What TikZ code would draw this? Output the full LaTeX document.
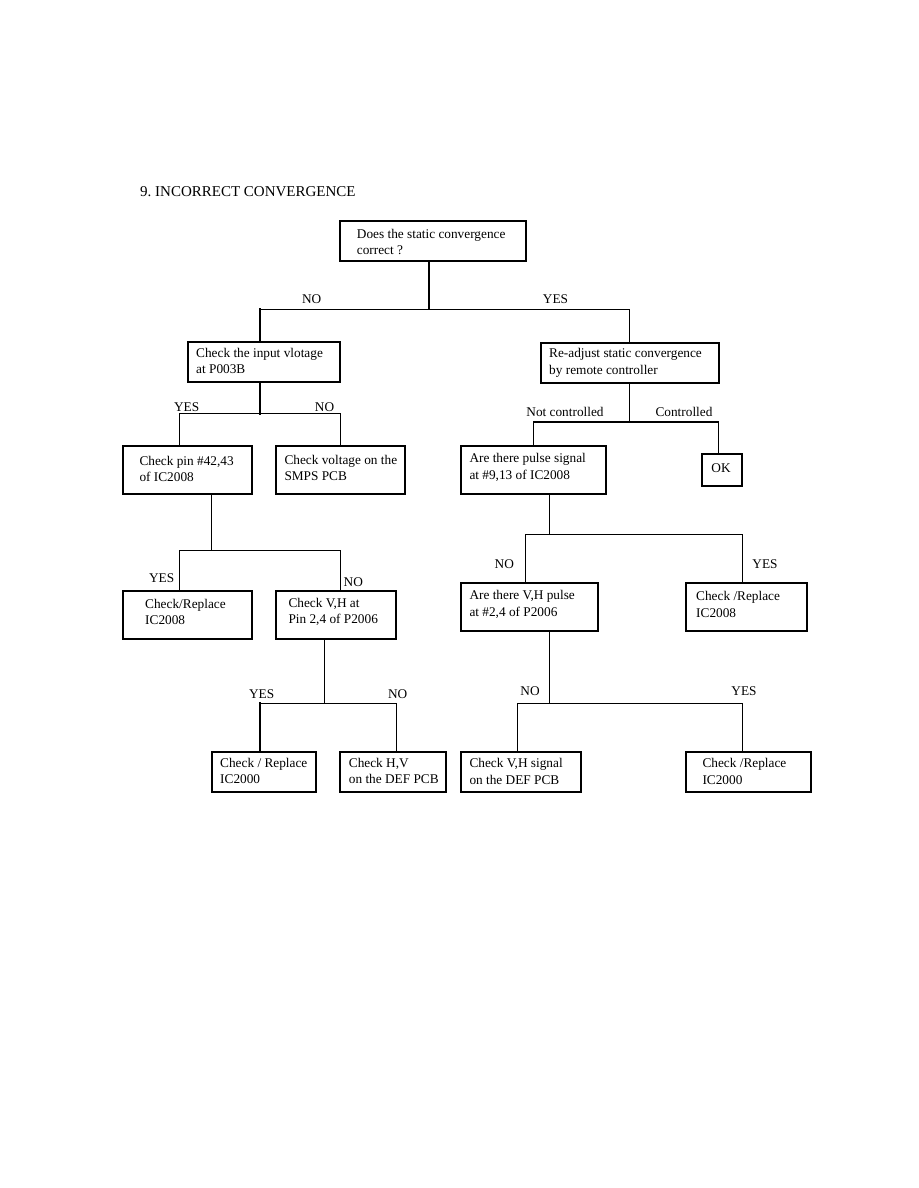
\documentclass[tikz,border=0pt]{standalone}
\usepackage{fontspec}
\setmainfont{Liberation Serif}
\usetikzlibrary{calc}
\frenchspacing
\begin{document}
\begin{tikzpicture}[x=1pt,y=-1pt,
  boxthick/.style={draw,line width=2pt,rectangle,inner sep=0pt},
  boxthin/.style={draw,line width=1.2pt,rectangle,inner sep=0pt},
  txt/.style={anchor=west,align=left,inner sep=0pt,font=\fontsize{13.3}{16.5}\selectfont},
  lbl/.style={inner sep=0pt,font=\fontsize{13.3}{16.5}\selectfont},
  thickln/.style={line width=2pt,line cap=rect},
  medln/.style={line width=1.5pt,line cap=rect},
  thinln/.style={line width=1pt,line cap=rect}]
\useasboundingbox (0,0) rectangle (918,1188);
\fill[white] (0,0) rectangle (918,1188);

\node[anchor=west,inner sep=0pt,font=\fontsize{15}{18}\selectfont] (title) at (140,192) {9.\ INCORRECT CONVERGENCE};

% boxes
\node[boxthick,minimum width=186pt,minimum height=40pt] (b1) at (433,241) {};
\node[txt] (b1t) at (356.7,242) {Does the static convergence\\correct ?};

\node[boxthick,minimum width=152pt,minimum height=40pt] (b2) at (264,362) {};
\node[txt] (b2t) at (196,361) {Check the input vlotage\\at P003B};

\node[boxthin,minimum width=178pt,minimum height=40pt] (b3) at (630,363) {};
\node[txt] (b3t) at (549,363) {Re-adjust static convergence\\by remote controller};

\node[boxthick,minimum width=145pt,minimum height=48pt] (b4) at (533.5,470) {};
\node[txt] (b4t) at (469.3,467.5) {Are there pulse signal\\at \#9,13 of IC2008};

\node[boxthick,minimum width=40pt,minimum height=32pt] (ok) at (722,470) {};
\node[lbl] (okt) at (721,468) {OK};

\node[boxthick,minimum width=129pt,minimum height=48pt] (b5) at (187.5,470) {};
\node[txt] (b5t) at (139.3,469) {Check pin \#42,43\\of IC2008};

\node[boxthick,minimum width=129pt,minimum height=48pt] (b6) at (340.5,470) {};
\node[txt] (b6t) at (284.3,468) {Check voltage on the\\SMPS PCB};

\node[boxthick,minimum width=129pt,minimum height=48pt] (b7) at (187.5,615) {};
\node[txt] (b7t) at (145,611.7) {Check/Replace\\IC2008};

\node[boxthick,minimum width=120pt,minimum height=48pt] (b8) at (336,615) {};
\node[txt] (b8t) at (288.3,611.7) {Check V,H at\\Pin 2,4 of P2006};

\node[boxthin,minimum width=104pt,minimum height=40pt] (b9) at (264,772) {};
\node[txt] (b9t) at (220,771) {Check / Replace\\IC2000};

\node[boxthin,minimum width=106pt,minimum height=40pt] (b10) at (393,772) {};
\node[txt] (b10t) at (348.7,771) {Check H,V\\on the DEF PCB};

\node[boxthick,minimum width=137pt,minimum height=48pt] (b11) at (529.5,607) {};
\node[txt] (b11t) at (469.3,604.5) {Are there V,H pulse\\at \#2,4 of P2006};

\node[boxthick,minimum width=121pt,minimum height=48pt] (b12) at (746.5,607) {};
\node[txt] (b12t) at (696,604.5) {Check /Replace\\IC2008};

\node[boxthin,minimum width=120pt,minimum height=40pt] (b13) at (521,772) {};
\node[txt] (b13t) at (469.3,771.5) {Check V,H signal\\on the DEF PCB};

\node[boxthin,minimum width=125pt,minimum height=40pt] (b14) at (748.5,772) {};
\node[txt] (b14t) at (702.3,771.5) {Check /Replace\\IC2000};

% junction coordinates
\coordinate (j1) at (429,309);
\coordinate (j1l) at (260,309);
\coordinate (j1r) at (629,309);
\coordinate (j2) at (260,413.7);
\coordinate (j2l) at (179.3,413.7);
\coordinate (j2r) at (340,413.7);
\coordinate (j3) at (629,422);
\coordinate (j3l) at (533.3,422);
\coordinate (j3r) at (718.3,422);
\coordinate (j4) at (211.7,550.7);
\coordinate (j4l) at (179.7,550.7);
\coordinate (j4r) at (340,550.7);
\coordinate (j5) at (324.3,703);
\coordinate (j5l) at (259.7,703);
\coordinate (j5r) at (396,703);
\coordinate (j6) at (549.3,534.3);
\coordinate (j6l) at (525.7,534.3);
\coordinate (j6r) at (742.7,534.3);
\coordinate (j7) at (549.3,703.3);
\coordinate (j7l) at (517.3,703.3);
\coordinate (j7r) at (742.7,703.3);

% connectors
\draw[thickln] (j1 |- b1.south) -- (j1);
\draw[thinln] (j1l) -- (j1r);
\draw[thickln] (j1l) -- (j1l |- b2.north);
\draw[thinln] (j1r) -- (j1r |- b3.north);

\draw[thickln] (j2 |- b2.south) -- (j2);
\draw[medln] (j2l) -- (j2r);
\draw[thinln] (j2l) -- (j2l |- b5.north);
\draw[thinln] (j2r) -- (j2r |- b6.north);

\draw[thinln] (j3 |- b3.south) -- (j3);
\draw[medln] (j3l) -- (j3r);
\draw[thinln] (j3l) -- (j3l |- b4.north);
\draw[thinln] (j3r) -- (j3r |- ok.north);

\draw[thinln] (j4 |- b5.south) -- (j4);
\draw[thinln] (j4l) -- (j4r);
\draw[thinln] (j4l) -- (j4l |- b7.north);
\draw[thinln] (j4r) -- (j4r |- b8.north);

\draw[thinln] (j5 |- b8.south) -- (j5);
\draw[thinln] (j5l) -- (j5r);
\draw[thickln] (j5l) -- (j5l |- b9.north);
\draw[thinln] (j5r) -- (j5r |- b10.north);

\draw[thinln] (j6 |- b4.south) -- (j6);
\draw[thinln] (j6l) -- (j6r);
\draw[thinln] (j6l) -- (j6l |- b11.north);
\draw[thinln] (j6r) -- (j6r |- b12.north);

\draw[thinln] (j7 |- b11.south) -- (j7);
\draw[thinln] (j7l) -- (j7r);
\draw[thinln] (j7l) -- (j7l |- b13.north);
\draw[thinln] (j7r) -- (j7r |- b14.north);

% labels
\node[lbl] (l1) at (311.7,299) {NO};
\node[lbl] (l2) at (555.5,299) {YES};
\node[lbl] (l3) at (186.7,407) {YES};
\node[lbl] (l4) at (324.5,407) {NO};
\node[lbl] (l5) at (565,411.7) {Not controlled};
\node[lbl] (l6) at (684,412) {Controlled};
\node[lbl] (l7) at (161.7,578.3) {YES};
\node[lbl] (l8) at (353.3,581.7) {NO};
\node[lbl] (l9) at (504.3,564) {NO};
\node[lbl] (l10) at (765,564) {YES};
\node[lbl] (l11) at (261.7,694) {YES};
\node[lbl] (l12) at (397.7,694) {NO};
\node[lbl] (l13) at (530,691.3) {NO};
\node[lbl] (l14) at (744,691.3) {YES};
\end{tikzpicture}
\end{document}
